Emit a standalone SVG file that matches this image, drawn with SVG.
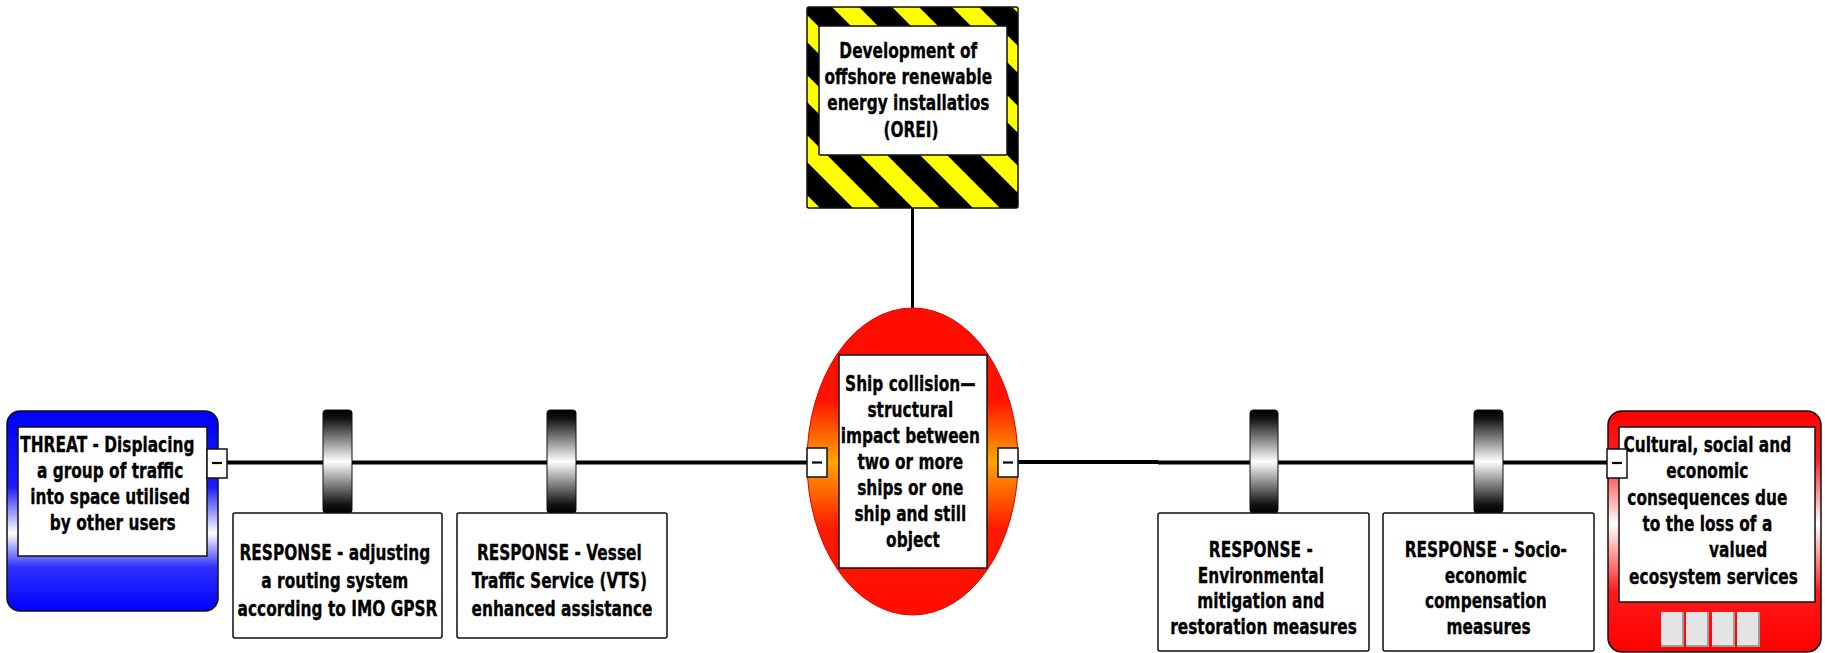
<svg xmlns="http://www.w3.org/2000/svg" width="1825" height="653" viewBox="0 0 1825 653">
  <defs>
    <style>
      .lbl { font-family: "DejaVu Sans", "Liberation Sans", sans-serif; font-weight: bold; font-size: 22px; fill: #000; stroke: #000; stroke-width: 0.35; text-anchor: middle; }
      .box { fill: #fff; stroke: #111; stroke-width: 1.5; }
      .edge { fill: none; stroke: #000; stroke-width: 4; }
      .toggle { fill: #fff; stroke: #111; stroke-width: 1.5; }
      .dash { stroke: #000; stroke-width: 2.2; }
      .barrier { fill: url(#barrierGrad); stroke: #111; stroke-width: 1; }
      .tile { fill: #e4e4e4; }
      .tileEdge { fill: none; stroke: #9c9c9c; stroke-width: 2; }
    </style>
    <pattern id="hazardStripes" patternUnits="userSpaceOnUse" x="45" y="0" width="60" height="60">
      <rect width="60" height="60" fill="#000"/>
      <polygon points="0,0 27,0 60,33 60,60" fill="#ffff00"/>
      <polygon points="0,33 27,60 0,60" fill="#ffff00"/>
    </pattern>
    <linearGradient id="eventGrad" x1="0" y1="0" x2="0" y2="1">
      <stop offset="0" stop-color="#ff0d00"/>
      <stop offset="0.3" stop-color="#ff1200"/>
      <stop offset="0.5" stop-color="#ffa500"/>
      <stop offset="0.72" stop-color="#ff1a00"/>
      <stop offset="1" stop-color="#ff0d00"/>
    </linearGradient>
    <linearGradient id="threatGrad" x1="0" y1="0" x2="0" y2="1">
      <stop offset="0" stop-color="#0000ff"/>
      <stop offset="0.38" stop-color="#1c1cff"/>
      <stop offset="0.61" stop-color="#ffffff"/>
      <stop offset="0.78" stop-color="#3030ff"/>
      <stop offset="1" stop-color="#0000ff"/>
    </linearGradient>
    <linearGradient id="consGrad" x1="0" y1="0" x2="0" y2="1">
      <stop offset="0" stop-color="#ff0000"/>
      <stop offset="0.2" stop-color="#ff2020"/>
      <stop offset="0.47" stop-color="#ffffff"/>
      <stop offset="0.75" stop-color="#ff1a1a"/>
      <stop offset="1" stop-color="#ff0000"/>
    </linearGradient>
    <linearGradient id="barrierGrad" x1="0" y1="0" x2="0" y2="1">
      <stop offset="0" stop-color="#000"/>
      <stop offset="0.08" stop-color="#111"/>
      <stop offset="0.5" stop-color="#ffffff"/>
      <stop offset="0.92" stop-color="#111"/>
      <stop offset="1" stop-color="#000"/>
    </linearGradient>
  </defs>

  <rect width="1825" height="653" fill="#fff"/>

  <!-- connectors -->
  <g id="connectors">
    <line class="edge" x1="227" y1="462.5" x2="457" y2="462.5"/>
    <line class="edge" x1="457" y1="462.5" x2="807" y2="462.5"/>
    <line class="edge" x1="1018" y1="462" x2="1158" y2="462"/>
    <line class="edge" x1="1158" y1="462.5" x2="1607" y2="462.5"/>
    <line x1="912.5" y1="208" x2="912.5" y2="308" stroke="#000" stroke-width="3"/>
  </g>

  <!-- hazard -->
  <g id="hazard">
    <rect x="807" y="7" width="211" height="201" rx="2" fill="url(#hazardStripes)" stroke="#111" stroke-width="1.5"/>
    <rect class="box" x="819" y="26" width="188" height="129" rx="1"/>
    <text class="lbl" transform="matrix(0.7 0 0 1 911 0)">
      <tspan x="0" y="58">Development of</tspan>
      <tspan x="0" y="84">offshore renewable</tspan>
      <tspan x="0" y="110">energy installatios</tspan>
      <tspan x="0" y="137">(OREI)</tspan>
    </text>
  </g>

  <!-- top event -->
  <g id="top-event">
    <ellipse cx="912.5" cy="461.5" rx="105.5" ry="153.5" fill="url(#eventGrad)" stroke="#e00000" stroke-width="1"/>
    <rect class="box" x="839" y="355" width="148" height="213"/>
    <text class="lbl" transform="matrix(0.7 0 0 1 913 0)">
      <tspan x="0" y="391">Ship collision—</tspan>
      <tspan x="0" y="417">structural</tspan>
      <tspan x="0" y="443">impact between</tspan>
      <tspan x="0" y="469">two or more</tspan>
      <tspan x="0" y="495">ships or one</tspan>
      <tspan x="0" y="521">ship and still</tspan>
      <tspan x="0" y="547">object</tspan>
    </text>
    <rect class="toggle" x="807" y="448" width="20" height="29"/>
    <line class="dash" x1="812" y1="462.5" x2="822" y2="462.5"/>
    <rect class="toggle" x="998" y="448" width="20" height="29"/>
    <line class="dash" x1="1003" y1="462.5" x2="1013" y2="462.5"/>
  </g>

  <!-- threat -->
  <g id="threat">
    <rect x="7" y="411" width="211" height="200" rx="13" fill="url(#threatGrad)" stroke="#111" stroke-width="1.5"/>
    <rect class="box" x="18" y="427" width="189" height="129"/>
    <text class="lbl" transform="matrix(0.7 0 0 1 110 0)">
      <tspan x="0" y="452">THREAT - Displacing</tspan>
      <tspan x="4" y="478">a group of traffic</tspan>
      <tspan x="4" y="504">into space utilised</tspan>
      <tspan x="4" y="530">by other users</tspan>
    </text>
    <rect class="toggle" x="207" y="449" width="20" height="29"/>
    <line class="dash" x1="212" y1="463" x2="222" y2="463"/>
  </g>

  <!-- barrier 1 -->
  <g id="barrier-routing">
    <rect class="barrier" x="323" y="410" width="29" height="103" rx="3"/>
    <rect class="box" x="233" y="513" width="209" height="125" rx="2"/>
    <text class="lbl" transform="matrix(0.7 0 0 1 337.5 0)">
      <tspan x="0" y="560">RESPONSE - adjusting</tspan>
      <tspan x="0" y="588">a routing system</tspan>
      <tspan x="0" y="616">according to IMO GPSR</tspan>
    </text>
  </g>

  <!-- barrier 2 -->
  <g id="barrier-vts">
    <rect class="barrier" x="547" y="410" width="29" height="103" rx="3"/>
    <rect class="box" x="457" y="513" width="210" height="125" rx="2"/>
    <text class="lbl" transform="matrix(0.7 0 0 1 562 0)">
      <tspan x="0" y="560">RESPONSE - Vessel</tspan>
      <tspan x="0" y="588">Traffic Service (VTS)</tspan>
      <tspan x="0" y="616">enhanced assistance</tspan>
    </text>
  </g>

  <!-- barrier 3 -->
  <g id="barrier-environmental">
    <rect class="barrier" x="1250" y="410" width="28" height="103" rx="3"/>
    <rect class="box" x="1158" y="513" width="211" height="138" rx="2"/>
    <text class="lbl" transform="matrix(0.7 0 0 1 1263.5 0)">
      <tspan x="0" y="557">RESPONSE -</tspan>
      <tspan x="0" y="583">Environmental</tspan>
      <tspan x="0" y="608">mitigation and</tspan>
      <tspan x="0" y="634">restoration measures</tspan>
    </text>
  </g>

  <!-- barrier 4 -->
  <g id="barrier-compensation">
    <rect class="barrier" x="1474" y="410" width="29" height="103" rx="3"/>
    <rect class="box" x="1383" y="513" width="211" height="138" rx="2"/>
    <text class="lbl" transform="matrix(0.7 0 0 1 1488.5 0)">
      <tspan x="0" y="557">RESPONSE - Socio-</tspan>
      <tspan x="0" y="583">economic</tspan>
      <tspan x="0" y="608">compensation</tspan>
      <tspan x="0" y="634">measures</tspan>
    </text>
  </g>

  <!-- consequence -->
  <g id="consequence">
    <rect x="1608" y="411" width="213" height="241" rx="14" fill="url(#consGrad)" stroke="#111" stroke-width="1.5"/>
    <rect class="box" x="1619" y="427" width="196" height="175"/>
    <text class="lbl" transform="matrix(0.7 0 0 1 1710 0)">
      <tspan x="0" y="452">Cultural, social and</tspan>
      <tspan x="0" y="478">economic</tspan>
      <tspan x="0" y="505">consequences due</tspan>
      <tspan x="0" y="531">to the loss of a</tspan>
      <tspan x="44" y="557">valued</tspan>
      <tspan x="5" y="584">ecosystem services</tspan>
    </text>
    <rect class="toggle" x="1607" y="449" width="20" height="29"/>
    <line class="dash" x1="1612" y1="463" x2="1622" y2="463"/>
    <rect class="tile" x="1661" y="612" width="23" height="35"/>
    <polyline class="tileEdge" points="1661,646 1683,646 1683,612"/>
    <rect class="tile" x="1686" y="612" width="23" height="35"/>
    <polyline class="tileEdge" points="1686,646 1708,646 1708,612"/>
    <rect class="tile" x="1712" y="612" width="23" height="35"/>
    <polyline class="tileEdge" points="1712,646 1734,646 1734,612"/>
    <rect class="tile" x="1737" y="612" width="23" height="35"/>
    <polyline class="tileEdge" points="1737,646 1759,646 1759,612"/>
  </g>
</svg>
